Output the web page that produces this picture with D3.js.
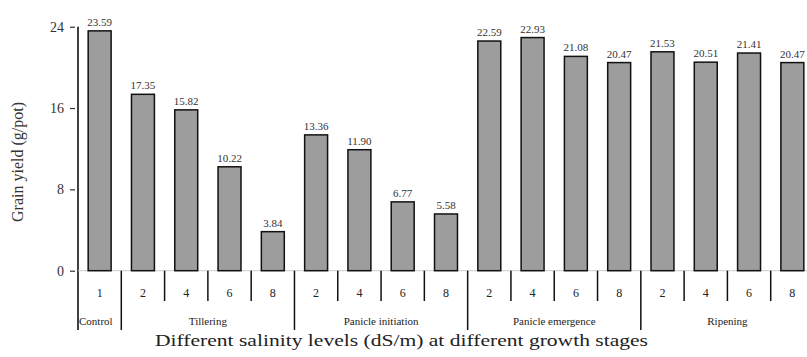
<!DOCTYPE html>
<html>
<head>
<meta charset="utf-8">
<script src="https://cdn.jsdelivr.net/npm/d3@7/dist/d3.min.js"></script>
<style>
  html, body { margin: 0; padding: 0; background: #fff; }
  svg { display: block; }
  text { font-family: "Liberation Serif", "DejaVu Serif", serif; }
</style>
</head>
<body>
<svg id="chart" width="807" height="357"></svg>
<script>
// Grain yield per salinity level, grouped by growth stage
const levels = ["1", "2", "4", "6", "8", "2", "4", "6", "8", "2", "4", "6", "8", "2", "4", "6", "8"];
const stages = ["Control", "Tillering", "Tillering", "Tillering", "Tillering",
  "Panicle initiation", "Panicle initiation", "Panicle initiation", "Panicle initiation",
  "Panicle emergence", "Panicle emergence", "Panicle emergence", "Panicle emergence",
  "Ripening", "Ripening", "Ripening", "Ripening"];
const yieldValues = [23.59, 17.35, 15.82, 10.22, 3.84, 13.36, 11.90, 6.77, 5.58,
  22.59, 22.93, 21.08, 20.47, 21.53, 20.51, 21.41, 20.47];
const yTicks = [0, 8, 16, 24];
const stageNames = ["Control", "Tillering", "Panicle initiation", "Panicle emergence", "Ripening"];

const svg = d3.select("#chart");
const ids = d3.range(yieldValues.length);

const x = d3.scaleBand().domain(ids).range([78, 814]).paddingInner(0.47).paddingOuter(0.235);
const y = d3.scaleLinear().domain([0, 24]).range([270.7, 26.7]);

const step = x.step();
const left = x(0) - x.paddingOuter() * step; // left edge of first band
const edge = i => left + i * step;           // boundary before band i

// y axis
svg.append("line")
  .attr("x1", 78).attr("x2", 78)
  .attr("y1", y(24)).attr("y2", 330)
  .attr("stroke", "#111").attr("stroke-width", 1.6);

const yAxis = d3.axisLeft(y).tickValues(yTicks).tickSize(5).tickPadding(6);
const gy = svg.append("g").attr("transform", "translate(75,0)").call(yAxis);
gy.select(".domain").remove();
gy.selectAll(".tick line").attr("stroke", "#333").attr("stroke-width", 1.2);
gy.selectAll(".tick text")
  .attr("font-size", 14).attr("fill", "#333")
  .attr("font-family", "'Liberation Serif', serif");

// baseline
svg.append("line")
  .attr("x1", 78).attr("x2", 807)
  .attr("y1", y(0)).attr("y2", y(0))
  .attr("stroke", "#ccc").attr("stroke-width", 1);

// bars
svg.append("g").selectAll("rect")
  .data(ids)
  .join("rect")
  .attr("x", i => x(i))
  .attr("width", x.bandwidth())
  .attr("y", i => y(yieldValues[i]))
  .attr("height", i => y(0) - y(yieldValues[i]))
  .attr("fill", "#9d9d9d")
  .attr("stroke", "#111")
  .attr("stroke-width", 1.5);

// value labels
svg.append("g").selectAll("text")
  .data(ids)
  .join("text")
  .attr("x", i => x(i) + x.bandwidth() / 2)
  .attr("y", i => y(yieldValues[i]) - 5)
  .attr("text-anchor", "middle")
  .attr("font-size", 11)
  .attr("fill", "#333")
  .text(i => yieldValues[i].toFixed(2));

// separators between bands: long at stage boundaries, short otherwise
const seps = d3.range(1, yieldValues.length + 1);
svg.append("g").selectAll("line")
  .data(seps)
  .join("line")
  .attr("x1", i => edge(i)).attr("x2", i => edge(i))
  .attr("y1", y(0))
  .attr("y2", i => (i < stages.length && stages[i] !== stages[i - 1]) ? 330 : 301)
  .attr("stroke", "#111").attr("stroke-width", 1.5);

// salinity level labels
svg.append("g").selectAll("text")
  .data(ids)
  .join("text")
  .attr("x", i => x(i) + x.bandwidth() / 2)
  .attr("y", 297)
  .attr("text-anchor", "middle")
  .attr("font-size", 12)
  .attr("fill", "#222")
  .text(i => levels[i]);

// stage labels centred under their bands
const stageSpans = stageNames.map(name => {
  const idx = ids.filter(i => stages[i] === name);
  return { name, a: edge(idx[0]), b: edge(idx[idx.length - 1] + 1) };
});
svg.append("g").selectAll("text")
  .data(stageSpans)
  .join("text")
  .attr("x", d => d.name === "Control" ? d.a + 1 : (d.a + d.b) / 2)
  .attr("y", 325)
  .attr("text-anchor", d => d.name === "Control" ? "start" : "middle")
  .attr("font-size", 11)
  .attr("fill", "#222")
  .text(d => d.name);

// axis titles
svg.append("text")
  .attr("x", 155).attr("y", 346)
  .attr("font-family", "'DejaVu Serif', serif")
  .attr("font-size", 17)
  .attr("textLength", 493)
  .attr("lengthAdjust", "spacingAndGlyphs")
  .attr("fill", "#222")
  .text("Different salinity levels (dS/m) at different growth stages");

svg.append("text")
  .attr("transform", "translate(23,162) rotate(-90)")
  .attr("text-anchor", "middle")
  .attr("font-size", 16)
  .attr("fill", "#333")
  .text("Grain yield (g/pot)");
</script>
</body>
</html>
